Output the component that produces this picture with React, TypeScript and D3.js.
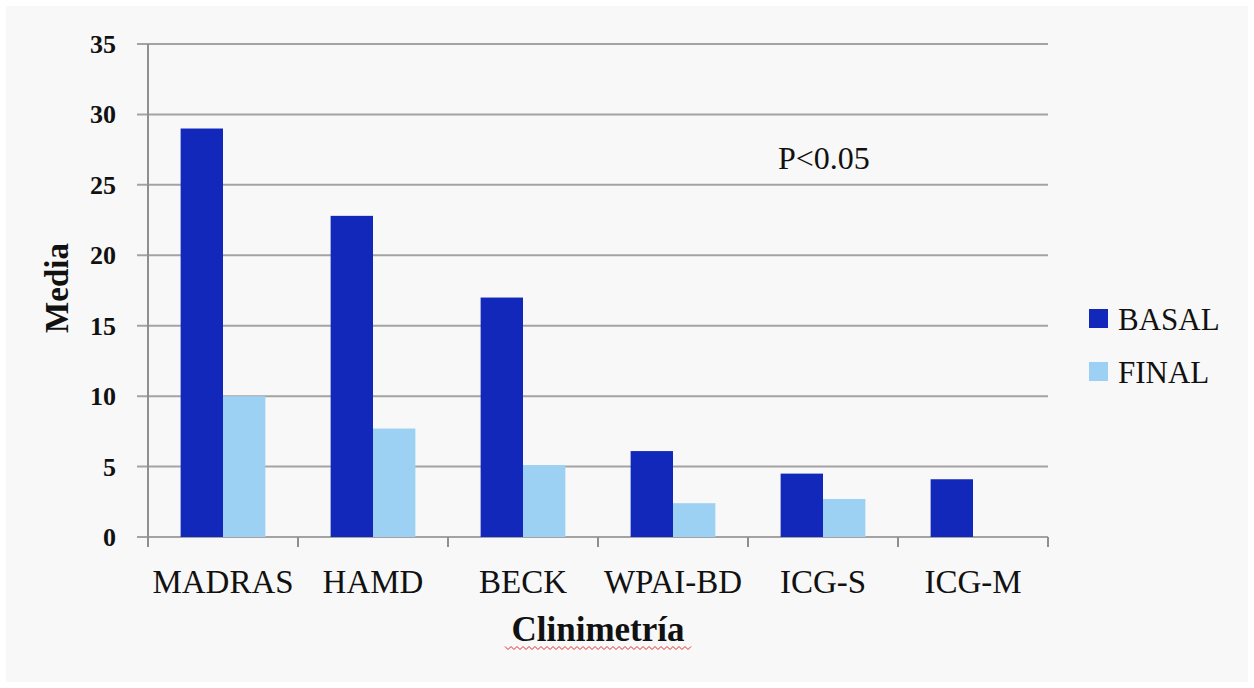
import React from "react";
import * as d3 from "d3";

const categories = ["MADRAS", "HAMD", "BECK", "WPAI-BD", "ICG-S", "ICG-M"];
const basalValues = [29, 22.8, 17, 6.1, 4.5, 4.1];
const finalValues = [10, 7.7, 5.1, 2.4, 2.7, 0];
const seriesNames = ["BASAL", "FINAL"];
const yTicks = [0, 5, 10, 15, 20, 25, 30, 35];

const W = 1254;
const H = 688;
const margin = { left: 148, right: 206, top: 44, bottom: 151 };
const colors = ["#1228BA", "#9DD1F3"];
const FONT = "'Liberation Serif', 'DejaVu Serif', serif";

export default function App() {
  const x = d3
    .scaleBand<string>()
    .domain(categories)
    .range([margin.left, W - margin.right])
    .paddingInner(0)
    .paddingOuter(0);
  const y = d3.scaleLinear().domain([0, 35]).range([H - margin.bottom, margin.top]);
  const inner = d3
    .scaleBand<string>()
    .domain(seriesNames)
    .range([0, x.bandwidth()])
    .paddingInner(0)
    .paddingOuter(0.77);

  const series = [basalValues, finalValues];
  const y0 = y(0);
  const xEnd = W - margin.right;

  // wavy underline path
  const wave: string[] = [];
  const wx0 = 505, wx1 = 692, wy = 648;
  for (let px = wx0, i = 0; px <= wx1; px += 3, i++) {
    wave.push(`${i === 0 ? "M" : "L"}${px},${wy + (i % 2 === 0 ? -1.5 : 1.5)}`);
  }

  return (
    <svg
      width={W}
      height={H}
      style={{ position: "absolute", left: 0, top: 0, display: "block" }}
      fontFamily={FONT}
    >
      <rect x={0} y={0} width={W} height={H} fill="#ffffff" />
      <rect x={6} y={6} width={W - 12} height={H - 12} fill="#f8f8f8" />
      {/* gridlines */}
      {yTicks.map((t) => (
        <line
          key={"g" + t}
          x1={margin.left - 11}
          x2={xEnd}
          y1={y(t)}
          y2={y(t)}
          stroke="#a3a3a3"
          strokeWidth={2}
        />
      ))}
      {/* y axis */}
      <line x1={margin.left} x2={margin.left} y1={margin.top} y2={y0 + 10} stroke="#8f8f8f" strokeWidth={2} />
      {yTicks.map((t) => (
        <text
          key={"yt" + t}
          x={116}
          y={y(t) + 9}
          textAnchor="end"
          fontSize={26}
          fontWeight="bold"
          fill="#111"
        >
          {t}
        </text>
      ))}
      {/* x ticks */}
      {categories.map((c) => (
        <line
          key={"xt" + c}
          x1={x(c)!}
          x2={x(c)!}
          y1={y0}
          y2={y0 + 10}
          stroke="#8f8f8f"
          strokeWidth={2}
        />
      ))}
      <line x1={xEnd} x2={xEnd} y1={y0} y2={y0 + 10} stroke="#8f8f8f" strokeWidth={2} />
      {/* bars */}
      {categories.map((c, i) =>
        series.map((vals, s) =>
          vals[i] > 0 ? (
            <rect
              key={c + s}
              x={x(c)! + inner(seriesNames[s])!}
              y={y(vals[i])}
              width={inner.bandwidth()}
              height={y0 - y(vals[i])}
              fill={colors[s]}
            />
          ) : null
        )
      )}
      {/* category labels */}
      {categories.map((c) => (
        <text
          key={"cl" + c}
          x={x(c)! + x.bandwidth() / 2}
          y={593}
          textAnchor="middle"
          fontSize={33}
          fill="#111"
        >
          {c}
        </text>
      ))}
      {/* axis titles */}
      <text x={598} y={641} textAnchor="middle" fontSize={35} fontWeight="bold" fill="#111">
        Clinimetría
      </text>
      <path d={wave.join(" ")} fill="none" stroke="#e03030" strokeWidth={1} />
      <text
        transform={`translate(68,288) rotate(-90)`}
        textAnchor="middle"
        fontSize={33}
        fontWeight="bold"
        fill="#111"
      >
        Media
      </text>
      {/* annotation */}
      <text x={778} y={169} fontSize={32} fill="#111">
        P&lt;0.05
      </text>
      {/* legend */}
      {seriesNames.map((n, s) => (
        <g key={"lg" + n} transform={`translate(1089,${309 + s * 53})`}>
          <rect x={0} y={0} width={19} height={19} fill={colors[s]} />
          <text x={29} y={21} fontSize={31} fill="#111">
            {n}
          </text>
        </g>
      ))}
    </svg>
  );
}
